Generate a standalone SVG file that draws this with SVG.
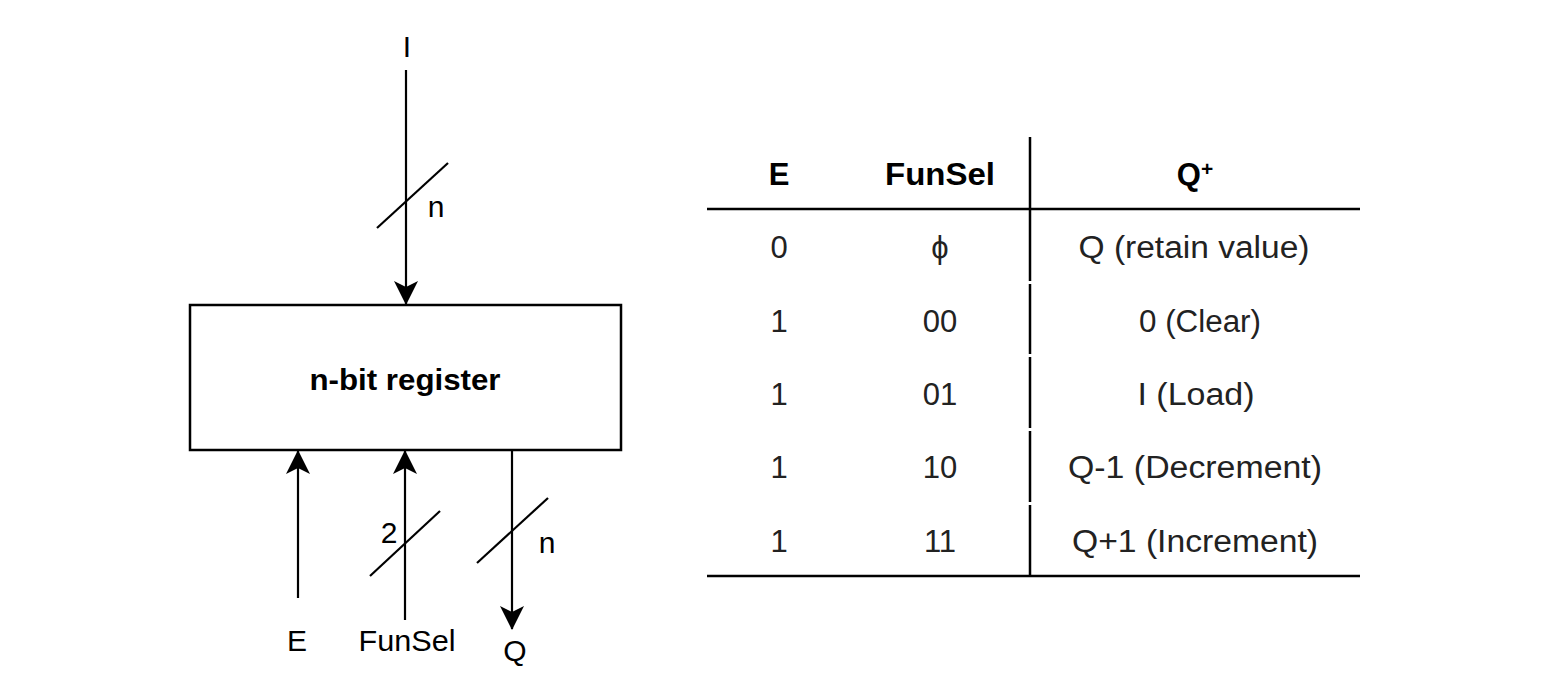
<svg xmlns="http://www.w3.org/2000/svg" width="1568" height="680" viewBox="0 0 1568 680">
  <style>
    .wire { stroke: #000; stroke-width: 2.2; fill: none; }
    .rule { stroke: #000; stroke-width: 2.5; fill: none; }
    .lbl { font-family: "Liberation Sans", Arial, sans-serif; font-size: 30px; fill: #000; }
    .bold { font-weight: bold; }
    .hd { font-family: "Liberation Sans", Arial, sans-serif; font-size: 31px; font-weight: bold; fill: #000; text-anchor: middle; }
    .cell { font-family: "Liberation Sans", Arial, sans-serif; font-size: 31px; fill: #222; text-anchor: middle; }
  </style>
  <defs>
    <marker id="arrow" viewBox="0 0 24 24" markerWidth="24" markerHeight="24" refX="23" refY="12" orient="auto" markerUnits="userSpaceOnUse">
      <path d="M0,0 L24,12 L0,24 L6,12 Z" fill="#000"/>
    </marker>
  </defs>
  <rect width="1568" height="680" fill="#fff"/>

  <!-- register block -->
  <g id="register">
    <rect x="190" y="305" width="431" height="145" fill="#fff" stroke="#000" stroke-width="2.5"/>
    <text class="lbl bold" x="405" y="390" text-anchor="middle" font-size="31" textLength="191" lengthAdjust="spacingAndGlyphs">n-bit register</text>
  </g>

  <!-- port labels -->
  <g id="port-I">
    <text class="lbl" x="407" y="57" text-anchor="middle">I</text>
  </g>
  <g id="port-E">
    <text class="lbl" x="297" y="651" text-anchor="middle">E</text>
  </g>
  <g id="port-FunSel">
    <text class="lbl" x="407" y="651" text-anchor="middle" textLength="97" lengthAdjust="spacingAndGlyphs">FunSel</text>
  </g>
  <g id="port-Q">
    <text class="lbl" x="515" y="661" text-anchor="middle">Q</text>
  </g>

  <!-- connectors with bus-width slashes -->
  <g id="connectors">
    <line class="wire" x1="406" y1="70" x2="406" y2="304" marker-end="url(#arrow)"/>
    <line class="wire" x1="377" y1="228" x2="448" y2="163"/>
    <text class="lbl" x="436" y="217" text-anchor="middle">n</text>

    <line class="wire" x1="298" y1="598" x2="298" y2="451" marker-end="url(#arrow)"/>

    <line class="wire" x1="405" y1="620" x2="405" y2="451" marker-end="url(#arrow)"/>
    <line class="wire" x1="370" y1="576" x2="440" y2="511"/>
    <text class="lbl" x="389" y="543" text-anchor="middle">2</text>

    <line class="wire" x1="512" y1="450" x2="512" y2="629" marker-end="url(#arrow)"/>
    <line class="wire" x1="477" y1="563" x2="548" y2="498"/>
    <text class="lbl" x="547" y="553" text-anchor="middle">n</text>
  </g>

  <!-- function table -->
  <g id="table">
    <line class="rule" x1="707" y1="209" x2="1360" y2="209"/>
    <line class="rule" x1="707" y1="576" x2="1360" y2="576" stroke-width="3"/>
    <path class="rule" d="M1030,137 V281 M1030,284 V354 M1030,357 V428 M1030,431 V502 M1030,505 V577"/>

    <text class="hd" x="779" y="185">E</text>
    <text class="hd" x="940" y="185" textLength="110" lengthAdjust="spacingAndGlyphs">FunSel</text>
    <text class="hd" x="1195" y="185">Q<tspan font-size="21" dy="-9">+</tspan></text>

    <text class="cell" x="779" y="258">0</text>
    <text class="cell" x="940" y="258">ϕ</text>
    <text class="cell" x="1194" y="258" textLength="231" lengthAdjust="spacingAndGlyphs">Q (retain value)</text>

    <text class="cell" x="779" y="332">1</text>
    <text class="cell" x="940" y="332">00</text>
    <text class="cell" x="1200" y="332" textLength="122" lengthAdjust="spacingAndGlyphs">0 (Clear)</text>

    <text class="cell" x="779" y="405">1</text>
    <text class="cell" x="940" y="405">01</text>
    <text class="cell" x="1196" y="405" textLength="117" lengthAdjust="spacingAndGlyphs">I (Load)</text>

    <text class="cell" x="779" y="478">1</text>
    <text class="cell" x="940" y="478">10</text>
    <text class="cell" x="1195" y="478" textLength="254" lengthAdjust="spacingAndGlyphs">Q-1 (Decrement)</text>

    <text class="cell" x="779" y="552">1</text>
    <text class="cell" x="940" y="552">11</text>
    <text class="cell" x="1195" y="552" textLength="246" lengthAdjust="spacingAndGlyphs">Q+1 (Increment)</text>
  </g>
</svg>
